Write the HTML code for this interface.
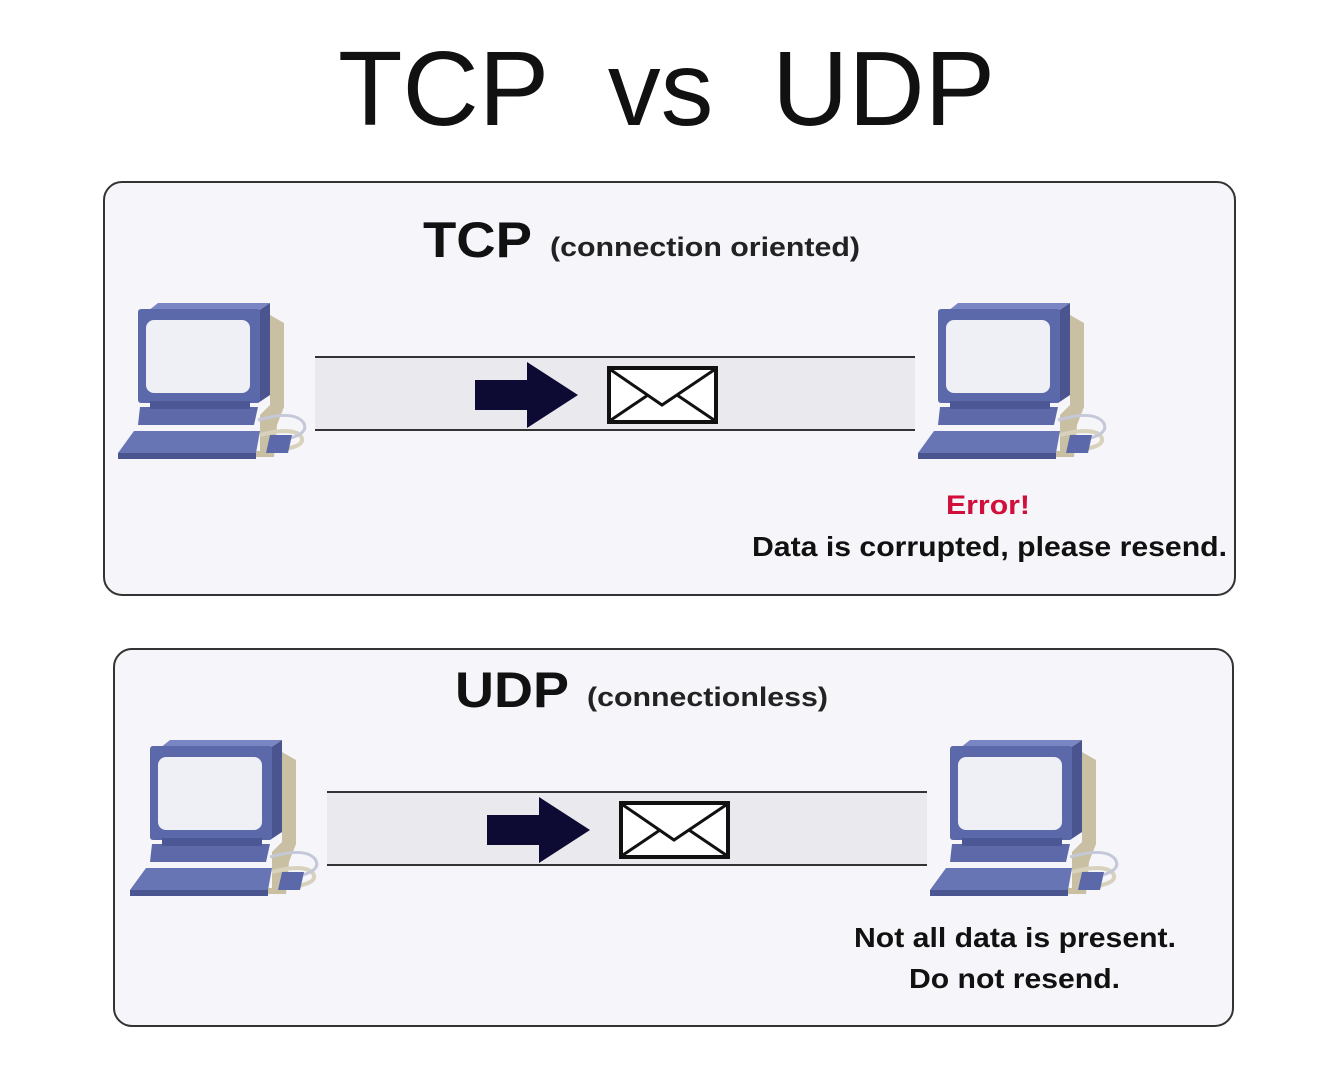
<!DOCTYPE html>
<html><head><meta charset="utf-8"><style>
html,body{margin:0;padding:0;background:#fff;}
svg{display:block;}
text{font-family:"Liberation Sans",Arial,sans-serif;}
</style></head><body>
<svg width="1328" height="1087" viewBox="0 0 1328 1087" xmlns="http://www.w3.org/2000/svg">
<defs>
<g id="pc">
  <polygon points="160,20 174,28 174,112 167,130 164,162 40,162 32,156 150,156 150,120 160,110" fill="#c9c0a3"/>
  <path d="M150,140 q30,-8 40,0 q8,10 -15,14" fill="none" stroke="#d8d2bd" stroke-width="4"/>
  <path d="M148,125 q35,-10 45,2 q8,12 -20,18" fill="none" stroke="#c4c8d8" stroke-width="3"/>
  <polygon points="148,16 160,8 160,100 148,108" fill="#4a558f"/>
  <polygon points="38,16 48,8 160,8 148,16" fill="#7a86c4"/>
  <rect x="28" y="14" width="122" height="94" rx="3" fill="#5b68aa"/>
  <rect x="36" y="25" width="104" height="73" rx="8" fill="#eef0f6"/>
  <polygon points="30,112 148,112 144,130 28,130" fill="#5d69a9"/>
  <rect x="40" y="106" width="100" height="8" fill="#4c5896"/>
  <polygon points="24,136 150,136 146,158 8,158" fill="#6875b5"/>
  <polygon points="8,158 146,158 146,164 8,164" fill="#4a558f"/>
  <polygon points="160,140 182,140 178,158 156,158" fill="#5b68aa"/>
</g>
<g id="chan">
  <rect x="0" y="0" width="600" height="73" fill="#e9e9ee"/>
  <line x1="0" y1="0" x2="600" y2="0" stroke="#333" stroke-width="2"/>
  <line x1="0" y1="73" x2="600" y2="73" stroke="#333" stroke-width="2"/>
  <polygon points="160,23 212,23 212,5 263,38 212,71 212,53 160,53" fill="#0d0b33"/>
  <rect x="294" y="11" width="107" height="54" fill="#fff" stroke="#111" stroke-width="4"/>
  <polyline points="296,13 347,48 399,13" fill="none" stroke="#111" stroke-width="3"/>
  <line x1="296" y1="63" x2="333" y2="38" stroke="#111" stroke-width="3"/>
  <line x1="399" y1="63" x2="362" y2="38" stroke="#111" stroke-width="3"/>
</g>
</defs>

<text x="338" y="125" font-size="106" fill="#111" textLength="657" lengthAdjust="spacingAndGlyphs">TCP&#160;&#160;vs&#160;&#160;UDP</text>

<rect x="104" y="182" width="1131" height="413" rx="18" fill="#f5f5fa" stroke="#333" stroke-width="2"/>
<rect x="114" y="649" width="1119" height="377" rx="18" fill="#f5f5fa" stroke="#333" stroke-width="2"/>

<text x="423" y="257" font-size="50" font-weight="bold" fill="#111" textLength="109" lengthAdjust="spacingAndGlyphs">TCP</text>
<text x="550" y="256" font-size="27" font-weight="bold" fill="#222" textLength="310" lengthAdjust="spacingAndGlyphs">(connection oriented)</text>

<use href="#chan" x="315" y="357"/>
<use href="#pc" x="110" y="295"/>
<use href="#pc" x="910" y="295"/>

<text x="946" y="514" font-size="27" font-weight="bold" fill="#d0103a" textLength="84" lengthAdjust="spacingAndGlyphs">Error!</text>
<text x="752" y="556" font-size="28" font-weight="bold" fill="#111" textLength="475" lengthAdjust="spacingAndGlyphs">Data is corrupted, please resend.</text>

<text x="455" y="707" font-size="50" font-weight="bold" fill="#111" textLength="114" lengthAdjust="spacingAndGlyphs">UDP</text>
<text x="587" y="706" font-size="27" font-weight="bold" fill="#222" textLength="241" lengthAdjust="spacingAndGlyphs">(connectionless)</text>

<use href="#chan" x="327" y="792"/>
<use href="#pc" x="122" y="732"/>
<use href="#pc" x="922" y="732"/>

<text x="854" y="947" font-size="28" font-weight="bold" fill="#111" textLength="322" lengthAdjust="spacingAndGlyphs">Not all data is present.</text>
<text x="909" y="988" font-size="28" font-weight="bold" fill="#111" textLength="211" lengthAdjust="spacingAndGlyphs">Do not resend.</text>
</svg>
</body></html>
